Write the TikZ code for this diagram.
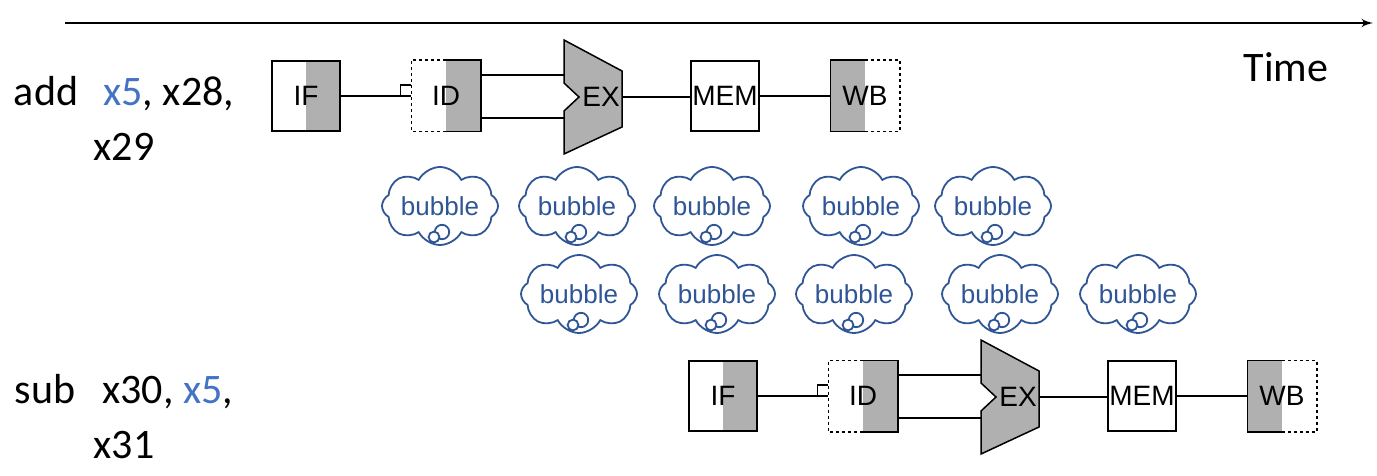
\documentclass[tikz,border=0pt]{standalone}
\usepackage{fontspec}
\setmainfont{Carlito}
\newfontfamily\stagefont{Liberation Sans}
\usetikzlibrary{arrows,calc,positioning,shapes.symbols}
\definecolor{stagegray}{RGB}{176,176,176}
\definecolor{regblue}{RGB}{68,114,196}
\definecolor{bubbleblue}{RGB}{47,85,151}
\tikzset{every picture/.style={
  >=latex'                      % LaTeX style arrows.
  }
}

% One instruction going through the five stages.
\newcommand{\pipeline}{%
    \node[stage,grayright,draw] (IF)  at (306,96) {IF};
    \node[stage,grayright]      (ID)  at (446,96) {ID};
    \node[stage,draw]           (MEM) at (725,96) {MEM};
    \node[stage,grayleft]       (WB)  at (865,96) {WB};
    \draw (ID.north) -| (ID.south east) -- (ID.south);
    \draw[halfdash] (ID.north) -| (ID.south west) -- (ID.south);
    \draw (WB.north) -| (WB.south west) -- (WB.south);
    \draw[halfdash] (WB.north) -| (WB.south east) -- (WB.south);
    % The ALU outline.
    \coordinate (EXc) at (593,97);
    \filldraw[alu] ($(EXc)+(-29,-57)$) -- ($(EXc)+(29,-26)$)
      -- ($(EXc)+(29,30)$) -- ($(EXc)+(-29,57)$) -- ($(EXc)+(-29,14)$)
      -- ($(EXc)+(-14,0)$) -- ($(EXc)+(-29,-14)$) -- cycle;
    \node[stagetext] (EX) at ($(EXc)+(8,0)$) {EX};
    \coordinate (EXin1) at ($(EXc)+(-29,-22)$);
    \coordinate (EXin2) at ($(EXc)+(-29,21)$);
    \coordinate (EXout) at ($(EXc)+(29,0)$);
    % Wires between the stages.
    \draw (IF.east) -- (ID.west);
    \draw ($(ID.west)+(-11,0)$) |- ($(ID.west)+(0,-11)$);
    \draw (ID.east |- EXin1) -- (EXin1);
    \draw (ID.east |- EXin2) -- (EXin2);
    \draw (EXout) -- (EXout -| MEM.west);
    \draw (MEM.east) -- (WB.west);
}

\begin{document}
\begin{tikzpicture}[
    x=0.5pt, y=-0.5pt,
    line width=0.75pt,
    stagetext/.style={          % Text inside the stages.
      inner sep=0pt,
      font=\stagefont\fontsize{14}{16}\selectfont
    },
    stage/.style={              % Pipeline register boxes.
      stagetext,
      rectangle,
      fill=white,
      minimum width=34pt,
      minimum height=35pt
    },
    grayright/.style={
      path picture={\fill[stagegray] (path picture bounding box.north)
        rectangle (path picture bounding box.south east);}
    },
    grayleft/.style={
      path picture={\fill[stagegray] (path picture bounding box.north west)
        rectangle (path picture bounding box.south);}
    },
    halfdash/.style={dash pattern=on 1.5pt off 1.5pt},
    alu/.style={fill=stagegray,draw=black},
    bubble/.style={             % The stall clouds.
      cloud,
      cloud puffs=8,
      cloud puff arc=125,
      cloud ignores aspect,
      draw=bubbleblue,
      line width=0.9pt,
      fill=white,
      minimum width=58pt,
      minimum height=39pt,
      inner sep=0pt,
      text=bubbleblue,
      font=\stagefont\fontsize{13}{15}\selectfont
    },
    puff/.style={draw=bubbleblue,line width=0.9pt,fill=white},
    instr/.style={              % The instruction names.
      align=center,
      font=\fontsize{21}{27.5}\selectfont
    }]

    \useasboundingbox (0,0) rectangle (1377,476);

    % Time axis.
    \coordinate (t0) at (65,23);
    \coordinate (t1) at (1373,23);
    \draw[->,line width=1pt] (t0) -- (t1);
    \node[instr,anchor=base] (time) at (1286,82) {Time};

    % The two instructions.
    \node[instr] (add) at (124,118)
      {add\hspace{0.6em}\textcolor{regblue}{x5}, x28,\\x29};
    \node[instr] (sub) at (124,417)
      {sub\hspace{0.65em}x30, \textcolor{regblue}{x5},\\x31};

    \begin{scope}[name prefix=add-]
      \pipeline
    \end{scope}
    \begin{scope}[shift={(417,300)},name prefix=sub-]
      \pipeline
    \end{scope}

    % Bubbles inserted by the stall.
    \node[bubble] (b11) at (440,206) {bubble};
    \node[bubble] (b12) at (577,206) {bubble};
    \node[bubble] (b13) at (712,206) {bubble};
    \node[bubble] (b14) at (861,206) {bubble};
    \node[bubble] (b15) at (993,206) {bubble};
    \node[bubble] (b21) at (579,294) {bubble};
    \node[bubble] (b22) at (717,294) {bubble};
    \node[bubble] (b23) at (854,294) {bubble};
    \node[bubble] (b24) at (1000,294) {bubble};
    \node[bubble] (b25) at (1138,294) {bubble};
    \foreach \b in {b11,b12,b13,b14,b15,b21,b22,b23,b24,b25} {
      \draw[puff] ($(\b)+(2,26)$) circle[radius=3.6pt];
      \draw[puff] ($(\b)+(-6,31)$) circle[radius=2.7pt];
    }
  \end{tikzpicture}
\end{document}
